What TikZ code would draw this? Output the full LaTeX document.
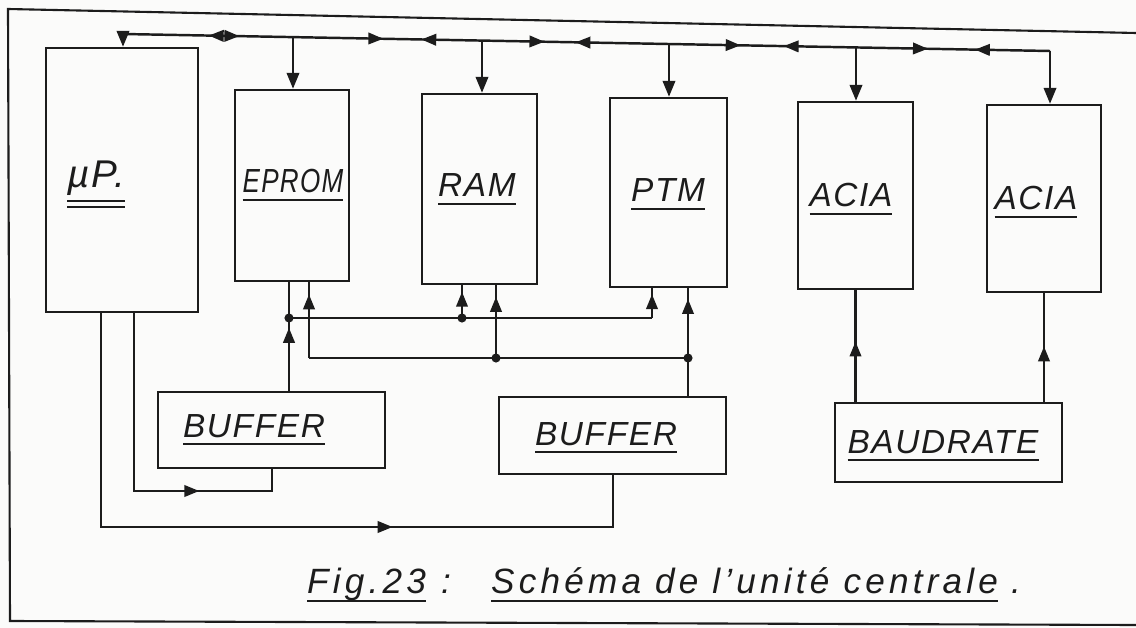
\documentclass[tikz,border=0pt]{standalone}
\usepackage{fontspec}
\usetikzlibrary{arrows.meta,decorations.markings,fit,calc}
\newfontfamily\handfont[LetterSpace=5]{Liberation Sans}
\newfontfamily\capfont[LetterSpace=12]{Liberation Sans}
\definecolor{ink}{HTML}{1C1C1C}
\definecolor{paper}{HTML}{FBFBFA}
\newcommand\ulab[2][4.5pt]{\setbox0=\hbox{#2}\rlap{\rule[-#1]{\wd0}{1.1pt}}\box0}
\newcommand\dulab[1]{\setbox0=\hbox{#1}\rlap{\rule[-8pt]{\wd0}{1.1pt}}\rlap{\rule[-11.5pt]{\wd0}{1.1pt}}\box0}
\begin{document}
\begin{tikzpicture}[x=0.02cm,y=-0.02cm,line width=1.4pt,draw=ink,
  box/.style={draw=ink,line width=1.4pt,inner sep=0pt,fit={#1}},
  lab/.style={inner sep=0pt,anchor=base,text=ink,font=\handfont\itshape\fontsize{19}{22}\selectfont},
  captxt/.style={inner sep=0pt,anchor=base west,text=ink,font=\capfont\itshape\fontsize{20}{24}\selectfont},
  tip/.style={-{Triangle[length=9pt,width=7pt]}},
  ma/.style={postaction={decorate},decoration={markings,mark=at position #1 with {\arrow{Triangle[length=8.5pt,width=6.5pt]}}}}
]
\fill[paper] (0,0) rectangle (1136,628);
\useasboundingbox (0,0) rectangle (1136,628);

% frame
\draw[ink,line width=1.2pt] (1136,33) -- (8,9) -- (10,621) -- (1136,625);

% boxes
\node[box={(46,48) (198,312)}] (mup) {};
\node[box={(235,90) (349,281)}] (eprom) {};
\node[box={(422,94) (537,284)}] (ram) {};
\node[box={(610,98) (727,287)}] (ptm) {};
\node[box={(798,102) (913,289)}] (acia1) {};
\node[box={(987,105) (1101,292)}] (acia2) {};
\node[box={(158,392) (385,468)}] (buf1) {};
\node[box={(499,397) (726,474)}] (buf2) {};
\node[box={(835,403) (1062,482)}] (baud) {};

% labels
\node[lab,font=\handfont\itshape\fontsize{22}{26}\selectfont] (mupt) at (96,188) {\dulab{µP.}};
\node[lab] (epromt) at (293,193) {\ulab{\scalebox{0.78}[1]{EPROM}}};
\node[lab] (ramt) at (477,197) {\ulab{RAM}};
\node[lab] (ptmt) at (668,202) {\ulab{PTM}};
\node[lab] (acia1t) at (851,207) {\ulab{ACIA}};
\node[lab] (acia2t) at (1036,210) {\ulab{ACIA}};
\node[lab] (buf1t) at (254,437) {\ulab{BUFFER}};
\node[lab] (buf2t) at (606,445) {\ulab{BUFFER}};
\node[lab] (baudt) at (943,453) {\ulab{BAUDRATE}};

% bus
\coordinate (busL) at (123,34);
\coordinate (busR) at (1050,51);
\coordinate (d1) at (293,37.1);
\coordinate (d2) at (482,40.6);
\coordinate (d3) at (669,44.0);
\coordinate (d4) at (856,47.5);
\draw[ink,postaction={decorate},decoration={markings,
  mark=at position 0.0925 with {\arrowreversed{Triangle[length=8.5pt,width=6.5pt]}},
  mark=at position 0.1255 with {\arrow{Triangle[length=8.5pt,width=6.5pt]}},
  mark=at position 0.2808 with {\arrow{Triangle[length=8.5pt,width=6.5pt]}},
  mark=at position 0.3218 with {\arrowreversed{Triangle[length=8.5pt,width=6.5pt]}},
  mark=at position 0.4546 with {\arrow{Triangle[length=8.5pt,width=6.5pt]}},
  mark=at position 0.4881 with {\arrowreversed{Triangle[length=8.5pt,width=6.5pt]}},
  mark=at position 0.6663 with {\arrow{Triangle[length=8.5pt,width=6.5pt]}},
  mark=at position 0.7127 with {\arrowreversed{Triangle[length=8.5pt,width=6.5pt]}},
  mark=at position 0.8683 with {\arrow{Triangle[length=8.5pt,width=6.5pt]}},
  mark=at position 0.9190 with {\arrowreversed{Triangle[length=8.5pt,width=6.5pt]}}}]
  (busL) -- (busR);
\draw[ink,tip] (busL) -- (busL |- mup.north);
\draw[ink,tip] (d1) -- (d1 |- eprom.north);
\draw[ink,tip] (d2) -- (d2 |- ram.north);
\draw[ink,tip] (d3) -- (d3 |- ptm.north);
\draw[ink,tip] (d4) -- (d4 |- acia1.north);
\draw[ink,tip] (busR) -- (busR |- acia2.north);

% lower wiring
\coordinate (j1) at (289,318);
\coordinate (r1) at (462,318);
\coordinate (p1) at (652,318);
\coordinate (e2) at (309,358);
\coordinate (r2) at (496,358);
\coordinate (p2) at (688,358);
\coordinate (m1) at (134,491);
\coordinate (m2) at (272,491);
\coordinate (n1) at (101,527);
\coordinate (n2) at (613,527);

\draw[ink,ma=0.58] (buf1.north -| j1) -- (eprom.south -| j1);
\draw[ink] (j1) -- (p1);
\draw[ink,ma=0.8] (p1) -- (p1 |- ptm.south);
\draw[ink,ma=0.8] (r1) -- (r1 |- ram.south);
\draw[ink,ma=0.84] (e2) -- (e2 |- eprom.south);
\draw[ink] (e2) -- (p2);
\draw[ink,ma=0.84] (r2) -- (r2 |- ram.south);
\draw[ink,ma=0.9] (buf2.north -| p2) -- (p2 |- ptm.south);
\draw[ink,ma=0.72] (mup.south -| m1) |- (m2) -- (m2 |- buf1.south);
\draw[ink,ma=0.65] (mup.south -| n1) |- (n2) -- (n2 |- buf2.south);
\draw[ink,ma=0.54] (baud.north -| acia1.south) -- (acia1.south);
\draw[ink,ma=0.51] (baud.north -| acia2.south) -- (acia2.south);

\fill[ink] (j1) circle (2.6pt) (r1) circle (2.6pt) (r2) circle (2.6pt) (p2) circle (2.6pt);

% caption
\node[captxt] (fig) at (306,593) {\ulab[5pt]{Fig.23}};
\node[captxt,anchor=base] (colon) at (446,593) {:};
\node[captxt] (title) at (490,593) {\ulab[5pt]{Schéma de l’unité centrale}};
\node[captxt,anchor=base] (stop) at (1016,593) {.};
\end{tikzpicture}
\end{document}
